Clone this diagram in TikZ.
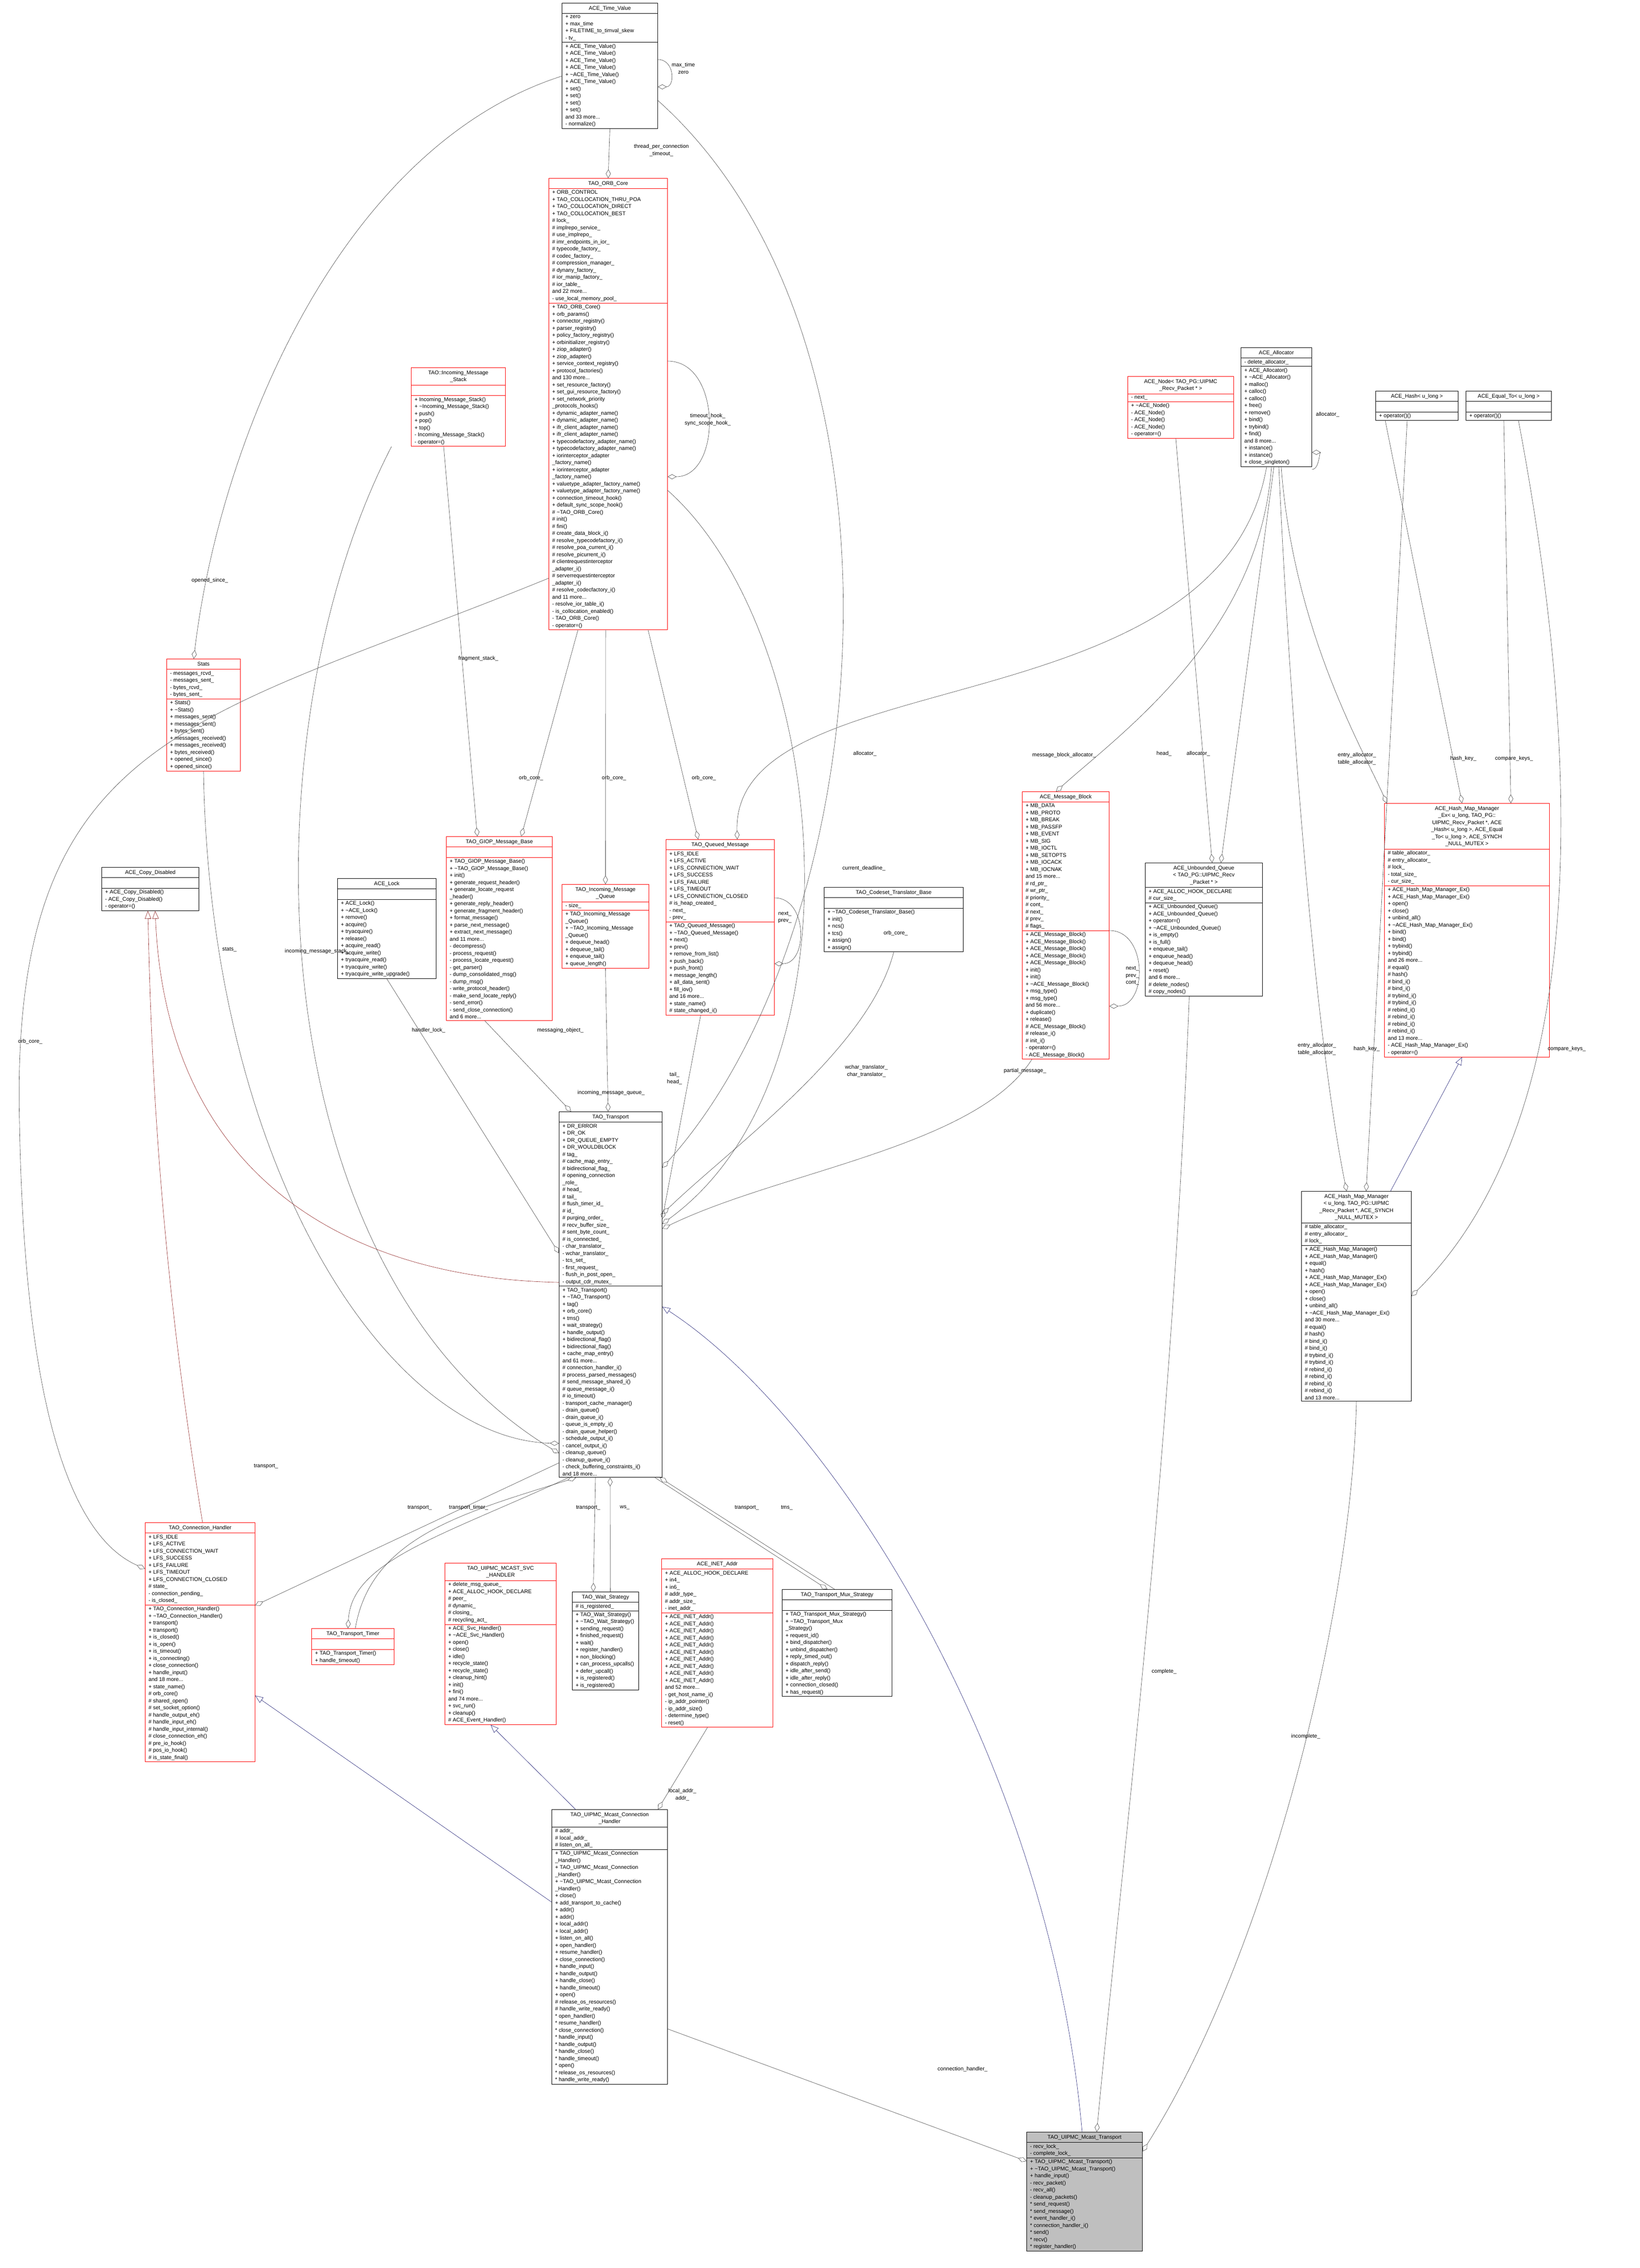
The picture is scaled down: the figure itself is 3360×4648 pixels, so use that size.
\documentclass[tikz,border=0pt]{standalone}
\usepackage{fontspec}
\usetikzlibrary{shapes.multipart,arrows.meta,positioning}
\newfontfamily\cf{Liberation Sans}
\newcommand\cfs{\cf\fontsize{11pt}{14.5pt}\selectfont}
\newcommand\ttl[1]{\begin{tabular}{@{}c@{}}#1\end{tabular}}
\newcommand\tl{\textasciitilde}
\definecolor{edgegray}{HTML}{404040}
\definecolor{inhblue}{HTML}{191970}
\definecolor{inhred}{HTML}{8B1A1A}
% one class box: style, name, x, y, width, title, attributes, methods
\newcommand\umlbox[8]{\node[#1, minimum width=#5pt] (#2) at (#3,#4) {\ttl{#6}\nodepart{second}#7\nodepart{third}#8};}
\tikzset{
  cls/.style={rectangle split, rectangle split parts=3, draw, line width=0.9pt,
    rectangle split part align={center,left,left}, anchor=north west,
    align=left, inner ysep=3pt, inner xsep=7pt, font=\cfs},
  redcls/.style={cls, draw=red},
  maincls/.style={cls, fill=black!25},
  agg/.style={draw=edgegray, line width=0.6pt, -{Diamond[open,length=18pt,width=10pt]}},
  inh/.style={draw=inhblue, line width=0.6pt, -{Triangle[open,length=16pt,width=13pt]}},
  inhr/.style={inh, draw=inhred},
  lbl/.style={font=\cfs, align=center, inner sep=1pt}
}
\begin{document}
\catcode`\_=12
\begin{tikzpicture}[x=1pt,y=-1pt]
  \useasboundingbox (0,0) rectangle (3360,4648);

  % class boxes
  \umlbox{cls}{tv}{1151}{6}{196}{ACE_Time_Value}
    {+ zero\\+ max_time\\+ FILETIME_to_timval_skew\\- tv_}
    {+ ACE_Time_Value()\\+ ACE_Time_Value()\\+ ACE_Time_Value()\\+ ACE_Time_Value()\\+ \tl ACE_Time_Value()\\+ ACE_Time_Value()\\+ set()\\+ set()\\+ set()\\+ set()\\and 33 more...\\- normalize()}
  \umlbox{redcls}{orb}{1124}{365}{243}{TAO_ORB_Core}
    {+ ORB_CONTROL\\+ TAO_COLLOCATION_THRU_POA\\+ TAO_COLLOCATION_DIRECT\\+ TAO_COLLOCATION_BEST\\\# lock_\\\# implrepo_service_\\\# use_implrepo_\\\# imr_endpoints_in_ior_\\\# typecode_factory_\\\# codec_factory_\\\# compression_manager_\\\# dynany_factory_\\\# ior_manip_factory_\\\# ior_table_\\and 22 more...\\- use_local_memory_pool_}
    {+ TAO_ORB_Core()\\+ orb_params()\\+ connector_registry()\\+ parser_registry()\\+ policy_factory_registry()\\+ orbinitializer_registry()\\+ ziop_adapter()\\+ ziop_adapter()\\+ service_context_registry()\\+ protocol_factories()\\and 130 more...\\+ set_resource_factory()\\+ set_gui_resource_factory()\\+ set_network_priority\\_protocols_hooks()\\+ dynamic_adapter_name()\\+ dynamic_adapter_name()\\+ ifr_client_adapter_name()\\+ ifr_client_adapter_name()\\+ typecodefactory_adapter_name()\\+ typecodefactory_adapter_name()\\+ iorinterceptor_adapter\\_factory_name()\\+ iorinterceptor_adapter\\_factory_name()\\+ valuetype_adapter_factory_name()\\+ valuetype_adapter_factory_name()\\+ connection_timeout_hook()\\+ default_sync_scope_hook()\\\# \tl TAO_ORB_Core()\\\# init()\\\# fini()\\\# create_data_block_i()\\\# resolve_typecodefactory_i()\\\# resolve_poa_current_i()\\\# resolve_picurrent_i()\\\# clientrequestinterceptor\\_adapter_i()\\\# serverrequestinterceptor\\_adapter_i()\\\# resolve_codecfactory_i()\\and 11 more...\\- resolve_ior_table_i()\\- is_collocation_enabled()\\- TAO_ORB_Core()\\- operator=()}
  \umlbox{redcls}{stack}{842}{753}{193}{TAO::Incoming_Message\\_Stack}
    {\strut}
    {+ Incoming_Message_Stack()\\+ \tl Incoming_Message_Stack()\\+ push()\\+ pop()\\+ top()\\- Incoming_Message_Stack()\\- operator=()}
  \umlbox{redcls}{stats}{341}{1350}{151}{Stats}
    {- messages_rcvd_\\- messages_sent_\\- bytes_rcvd_\\- bytes_sent_}
    {+ Stats()\\+ \tl Stats()\\+ messages_sent()\\+ messages_sent()\\+ bytes_sent()\\+ messages_received()\\+ messages_received()\\+ bytes_received()\\+ opened_since()\\+ opened_since()}
  \umlbox{cls}{copy}{208}{1777}{199}{ACE_Copy_Disabled}
    {\strut}
    {+ ACE_Copy_Disabled()\\- ACE_Copy_Disabled()\\- operator=()}
  \umlbox{redcls}{giop}{914}{1714}{217}{TAO_GIOP_Message_Base}
    {\strut}
    {+ TAO_GIOP_Message_Base()\\+ \tl TAO_GIOP_Message_Base()\\+ init()\\+ generate_request_header()\\+ generate_locate_request\\_header()\\+ generate_reply_header()\\+ generate_fragment_header()\\+ format_message()\\+ parse_next_message()\\+ extract_next_message()\\and 11 more...\\- decompress()\\- process_request()\\- process_locate_request()\\- get_parser()\\- dump_consolidated_msg()\\- dump_msg()\\- write_protocol_header()\\- make_send_locate_reply()\\- send_error()\\- send_close_connection()\\and 6 more...}
  \umlbox{cls}{lock}{691}{1800}{202}{ACE_Lock}
    {\strut}
    {+ ACE_Lock()\\+ \tl ACE_Lock()\\+ remove()\\+ acquire()\\+ tryacquire()\\+ release()\\+ acquire_read()\\+ acquire_write()\\+ tryacquire_read()\\+ tryacquire_write()\\+ tryacquire_write_upgrade()}
  \umlbox{redcls}{incq}{1151}{1812}{178}{TAO_Incoming_Message\\_Queue}
    {- size_}
    {+ TAO_Incoming_Message\\_Queue()\\+ \tl TAO_Incoming_Message\\_Queue()\\+ dequeue_head()\\+ dequeue_tail()\\+ enqueue_tail()\\+ queue_length()}
  \umlbox{redcls}{qmsg}{1364}{1720}{222}{TAO_Queued_Message}
    {+ LFS_IDLE\\+ LFS_ACTIVE\\+ LFS_CONNECTION_WAIT\\+ LFS_SUCCESS\\+ LFS_FAILURE\\+ LFS_TIMEOUT\\+ LFS_CONNECTION_CLOSED\\\# is_heap_created_\\- next_\\- prev_}
    {+ TAO_Queued_Message()\\+ \tl TAO_Queued_Message()\\+ next()\\+ prev()\\+ remove_from_list()\\+ push_back()\\+ push_front()\\+ message_length()\\+ all_data_sent()\\+ fill_iov()\\and 16 more...\\+ state_name()\\\# state_changed_i()}
  \umlbox{cls}{cset}{1688}{1818}{285}{TAO_Codeset_Translator_Base}
    {\strut}
    {+ \tl TAO_Codeset_Translator_Base()\\+ init()\\+ ncs()\\+ tcs()\\+ assign()\\+ assign()}
  \umlbox{redcls}{mblk}{2094}{1622}{178}{ACE_Message_Block}
    {+ MB_DATA\\+ MB_PROTO\\+ MB_BREAK\\+ MB_PASSFP\\+ MB_EVENT\\+ MB_SIG\\+ MB_IOCTL\\+ MB_SETOPTS\\+ MB_IOCACK\\+ MB_IOCNAK\\and 15 more...\\\# rd_ptr_\\\# wr_ptr_\\\# priority_\\\# cont_\\\# next_\\\# prev_\\\# flags_}
    {+ ACE_Message_Block()\\+ ACE_Message_Block()\\+ ACE_Message_Block()\\+ ACE_Message_Block()\\+ ACE_Message_Block()\\+ init()\\+ init()\\+ \tl ACE_Message_Block()\\+ msg_type()\\+ msg_type()\\and 56 more...\\+ duplicate()\\+ release()\\\# ACE_Message_Block()\\\# release_i()\\\# init_i()\\- operator=()\\- ACE_Message_Block()}
  \umlbox{cls}{unbq}{2346}{1768}{240}{ACE_Unbounded_Queue\\< TAO_PG::UIPMC_Recv\\_Packet * >}
    {+ ACE_ALLOC_HOOK_DECLARE\\\# cur_size_}
    {+ ACE_Unbounded_Queue()\\+ ACE_Unbounded_Queue()\\+ operator=()\\+ \tl ACE_Unbounded_Queue()\\+ is_empty()\\+ is_full()\\+ enqueue_tail()\\+ enqueue_head()\\+ dequeue_head()\\+ reset()\\and 6 more...\\\# delete_nodes()\\\# copy_nodes()}
  \umlbox{redcls}{node}{2310}{771}{217}{ACE_Node< TAO_PG::UIPMC\\_Recv_Packet * >}
    {- next_}
    {+ \tl ACE_Node()\\- ACE_Node()\\- ACE_Node()\\- ACE_Node()\\- operator=()}
  \umlbox{cls}{alloc}{2542}{712}{145}{ACE_Allocator}
    {- delete_allocator_}
    {+ ACE_Allocator()\\+ \tl ACE_Allocator()\\+ malloc()\\+ calloc()\\+ calloc()\\+ free()\\+ remove()\\+ bind()\\+ trybind()\\+ find()\\and 8 more...\\+ instance()\\+ instance()\\+ close_singleton()}
  \umlbox{cls}{hash}{2818}{801}{169}{ACE_Hash< u_long >}
    {\strut}
    {+ operator()()}
  \umlbox{cls}{equal}{3003}{801}{175}{ACE_Equal_To< u_long >}
    {\strut}
    {+ operator()()}
  \umlbox{redcls}{hmmex}{2836}{1646}{338}{ACE_Hash_Map_Manager\\_Ex< u_long, TAO_PG::\\UIPMC_Recv_Packet *, ACE\\_Hash< u_long >, ACE_Equal\\_To< u_long >, ACE_SYNCH\\_NULL_MUTEX >}
    {\# table_allocator_\\\# entry_allocator_\\\# lock_\\- total_size_\\- cur_size_}
    {+ ACE_Hash_Map_Manager_Ex()\\+ ACE_Hash_Map_Manager_Ex()\\+ open()\\+ close()\\+ unbind_all()\\+ \tl ACE_Hash_Map_Manager_Ex()\\+ bind()\\+ bind()\\+ trybind()\\+ trybind()\\and 26 more...\\\# equal()\\\# hash()\\\# bind_i()\\\# bind_i()\\\# trybind_i()\\\# trybind_i()\\\# rebind_i()\\\# rebind_i()\\\# rebind_i()\\\# rebind_i()\\and 13 more...\\- ACE_Hash_Map_Manager_Ex()\\- operator=()}
  \umlbox{cls}{hmm}{2666}{2441}{225}{ACE_Hash_Map_Manager\\< u_long, TAO_PG::UIPMC\\_Recv_Packet *, ACE_SYNCH\\_NULL_MUTEX >}
    {\# table_allocator_\\\# entry_allocator_\\\# lock_}
    {+ ACE_Hash_Map_Manager()\\+ ACE_Hash_Map_Manager()\\+ equal()\\+ hash()\\+ ACE_Hash_Map_Manager_Ex()\\+ ACE_Hash_Map_Manager_Ex()\\+ open()\\+ close()\\+ unbind_all()\\+ \tl ACE_Hash_Map_Manager_Ex()\\and 30 more...\\\# equal()\\\# hash()\\\# bind_i()\\\# bind_i()\\\# trybind_i()\\\# trybind_i()\\\# rebind_i()\\\# rebind_i()\\\# rebind_i()\\\# rebind_i()\\and 13 more...}
  \umlbox{cls}{tr}{1145}{2278}{211}{TAO_Transport}
    {+ DR_ERROR\\+ DR_OK\\+ DR_QUEUE_EMPTY\\+ DR_WOULDBLOCK\\\# tag_\\\# cache_map_entry_\\\# bidirectional_flag_\\\# opening_connection\\_role_\\\# head_\\\# tail_\\\# flush_timer_id_\\\# id_\\\# purging_order_\\\# recv_buffer_size_\\\# sent_byte_count_\\\# is_connected_\\- char_translator_\\- wchar_translator_\\- tcs_set_\\- first_request_\\- flush_in_post_open_\\- output_cdr_mutex_}
    {+ TAO_Transport()\\+ \tl TAO_Transport()\\+ tag()\\+ orb_core()\\+ tms()\\+ wait_strategy()\\+ handle_output()\\+ bidirectional_flag()\\+ bidirectional_flag()\\+ cache_map_entry()\\and 61 more...\\\# connection_handler_i()\\\# process_parsed_messages()\\\# send_message_shared_i()\\\# queue_message_i()\\\# io_timeout()\\- transport_cache_manager()\\- drain_queue()\\- drain_queue_i()\\- queue_is_empty_i()\\- drain_queue_helper()\\- schedule_output_i()\\- cancel_output_i()\\- cleanup_queue()\\- cleanup_queue_i()\\- check_buffering_constraints_i()\\and 18 more...}
  \umlbox{redcls}{ch}{297}{3120}{225}{TAO_Connection_Handler}
    {+ LFS_IDLE\\+ LFS_ACTIVE\\+ LFS_CONNECTION_WAIT\\+ LFS_SUCCESS\\+ LFS_FAILURE\\+ LFS_TIMEOUT\\+ LFS_CONNECTION_CLOSED\\\# state_\\- connection_pending_\\- is_closed_}
    {+ TAO_Connection_Handler()\\+ \tl TAO_Connection_Handler()\\+ transport()\\+ transport()\\+ is_closed()\\+ is_open()\\+ is_timeout()\\+ is_connecting()\\+ close_connection()\\+ handle_input()\\and 18 more...\\+ state_name()\\\# orb_core()\\\# shared_open()\\\# set_socket_option()\\\# handle_output_eh()\\\# handle_input_eh()\\\# handle_input_internal()\\\# close_connection_eh()\\\# pre_io_hook()\\\# pos_io_hook()\\\# is_state_final()}
  \umlbox{redcls}{timer}{638}{3337}{169}{TAO_Transport_Timer}
    {\strut}
    {+ TAO_Transport_Timer()\\+ handle_timeout()}
  \umlbox{redcls}{svc}{911}{3203}{228}{TAO_UIPMC_MCAST_SVC\\_HANDLER}
    {+ delete_msg_queue_\\+ ACE_ALLOC_HOOK_DECLARE\\\# peer_\\\# dynamic_\\\# closing_\\\# recycling_act_}
    {+ ACE_Svc_Handler()\\+ \tl ACE_Svc_Handler()\\+ open()\\+ close()\\+ idle()\\+ recycle_state()\\+ recycle_state()\\+ cleanup_hint()\\+ init()\\+ fini()\\and 74 more...\\+ svc_run()\\+ cleanup()\\\# ACE_Event_Handler()}
  \umlbox{cls}{wait}{1172}{3262}{136}{TAO_Wait_Strategy}
    {\# is_registered_}
    {+ TAO_Wait_Strategy()\\+ \tl TAO_Wait_Strategy()\\+ sending_request()\\+ finished_request()\\+ wait()\\+ register_handler()\\+ non_blocking()\\+ can_process_upcalls()\\+ defer_upcall()\\+ is_registered()\\+ is_registered()}
  \umlbox{redcls}{inet}{1355}{3194}{228}{ACE_INET_Addr}
    {+ ACE_ALLOC_HOOK_DECLARE\\+ in4_\\+ in6_\\\# addr_type_\\\# addr_size_\\- inet_addr_}
    {+ ACE_INET_Addr()\\+ ACE_INET_Addr()\\+ ACE_INET_Addr()\\+ ACE_INET_Addr()\\+ ACE_INET_Addr()\\+ ACE_INET_Addr()\\+ ACE_INET_Addr()\\+ ACE_INET_Addr()\\+ ACE_INET_Addr()\\+ ACE_INET_Addr()\\and 52 more...\\- get_host_name_i()\\- ip_addr_pointer()\\- ip_addr_size()\\- determine_type()\\- reset()}
  \umlbox{cls}{mux}{1602}{3257}{225}{TAO_Transport_Mux_Strategy}
    {\strut}
    {+ TAO_Transport_Mux_Strategy()\\+ \tl TAO_Transport_Mux\\_Strategy()\\+ request_id()\\+ bind_dispatcher()\\+ unbind_dispatcher()\\+ reply_timed_out()\\+ dispatch_reply()\\+ idle_after_send()\\+ idle_after_reply()\\+ connection_closed()\\+ has_request()}
  \umlbox{cls}{mch}{1130}{3708}{237}{TAO_UIPMC_Mcast_Connection\\_Handler}
    {\# addr_\\\# local_addr_\\\# listen_on_all_}
    {+ TAO_UIPMC_Mcast_Connection\\_Handler()\\+ TAO_UIPMC_Mcast_Connection\\_Handler()\\+ \tl TAO_UIPMC_Mcast_Connection\\_Handler()\\+ close()\\+ add_transport_to_cache()\\+ addr()\\+ addr()\\+ local_addr()\\+ local_addr()\\+ listen_on_all()\\+ open_handler()\\+ resume_handler()\\+ close_connection()\\+ handle_input()\\+ handle_output()\\+ handle_close()\\+ handle_timeout()\\+ open()\\\# release_os_resources()\\\# handle_write_ready()\\* open_handler()\\* resume_handler()\\* close_connection()\\* handle_input()\\* handle_output()\\* handle_close()\\* handle_timeout()\\* open()\\* release_os_resources()\\* handle_write_ready()}
  \umlbox{maincls}{mt}{2103}{4369}{237}{TAO_UIPMC_Mcast_Transport}
    {- recv_lock_\\- complete_lock_}
    {+ TAO_UIPMC_Mcast_Transport()\\+ \tl TAO_UIPMC_Mcast_Transport()\\+ handle_input()\\- recv_packet()\\- recv_all()\\- cleanup_packets()\\* send_request()\\* send_message()\\* event_handler_i()\\* connection_handler_i()\\* send()\\* recv()\\* register_handler()}

  % self references
  \draw[agg] ([yshift=-116pt]tv.north east) to[out=0,in=0,looseness=1.6] ([yshift=-172pt]tv.north east);
  \node[lbl] at (1400,140) {max_time\\zero};
  \draw[agg] ([yshift=-375pt]orb.north east) to[out=0,in=0,looseness=1.2] ([yshift=-612pt]orb.north east);
  \node[lbl] at (1450,860) {timeout_hook_\\sync_scope_hook_};
  \draw[agg] ([yshift=-250pt]alloc.north east) to[out=0,in=0,looseness=1.1] ([yshift=-215pt]alloc.north east);
  \node[lbl] at (2720,850) {allocator_};
  \draw[agg] ([yshift=-120pt]qmsg.north east) to[out=0,in=0,looseness=1.3] ([yshift=-255pt]qmsg.north east);
  \node[lbl] at (1608,1880) {next_\\prev_};
  \draw[agg] ([yshift=-285pt]mblk.north east) to[out=0,in=0,looseness=1.3] ([yshift=-440pt]mblk.north east);
  \node[lbl] at (2320,2000) {next_\\prev_\\cont_};

  % members around the ORB core and the time value
  \draw[agg] (tv.south) -- (orb.north);
  \node[lbl] at (1355,308) {thread_per_connection\\_timeout_};
  \draw[agg] ([yshift=-150pt]tv.north west) .. controls (700,300) and (450,900) .. ([xshift=-20pt]stats.north);
  \node[lbl] at (430,1190) {opened_since_};
  \draw[agg] ([yshift=-200pt]tv.north east) .. controls (1900,700) and (1800,1900) .. ([yshift=-115pt]tr.north east);
  \node[lbl] at (1770,1780) {current_deadline_};
  \draw[agg] ([yshift=-820pt]orb.north west) .. controls (400,1480) and (20,1500) .. (40,2300) .. controls (50,2900) and (150,3150) .. ([yshift=-95pt]ch.north west);
  \node[lbl] at (62,2135) {orb_core_};
  \draw[agg] ([xshift=60pt]orb.south west) -- ([xshift=45pt]giop.north);
  \node[lbl] at (1088,1595) {orb_core_};
  \draw[agg] ([xshift=-5pt]orb.south) -- (incq.north);
  \node[lbl] at (1258,1595) {orb_core_};
  \draw[agg] ([xshift=-40pt]orb.south east) -- ([xshift=-45pt]qmsg.north);
  \node[lbl] at (1442,1595) {orb_core_};
  \draw[agg] ([yshift=-640pt]orb.north east) .. controls (1700,1300) and (1780,2200) .. ([yshift=-230pt]tr.north east);
  \node[lbl] at (1835,1913) {orb_core_};

  % members held by the transport
  \draw[agg] ([xshift=-30pt]stack.south) -- ([xshift=-45pt]giop.north);
  \node[lbl] at (980,1350) {fragment_stack_};
  \draw[agg] ([xshift=-40pt]stack.south west) .. controls (500,1500) and (520,2600) .. ([yshift=-700pt]tr.north west);
  \node[lbl] at (650,1950) {incoming_message_stack_};
  \draw[agg] (stats.south) .. controls (430,2400) and (800,2950) .. ([yshift=-680pt]tr.north west);
  \node[lbl] at (470,1946) {stats_};
  \draw[agg] (lock.south) -- ([yshift=-290pt]tr.north west);
  \node[lbl] at (878,2112) {handler_lock_};
  \draw[agg] ([xshift=-30pt]giop.south) -- ([xshift=25pt]tr.north west);
  \node[lbl] at (1148,2112) {messaging_object_};
  \draw[agg] (incq.south) -- ([xshift=-5pt]tr.north);
  \node[lbl] at (1252,2240) {incoming_message_queue_};
  \draw[agg] ([xshift=-40pt]qmsg.south) -- ([yshift=-220pt]tr.north east);
  \node[lbl] at (1382,2210) {tail_\\head_};
  \draw[agg] (cset.south) .. controls (1780,2150) and (1500,2350) .. ([yshift=-210pt]tr.north east);
  \node[lbl] at (1775,2195) {wchar_translator_\\char_translator_};
  \draw[agg] ([xshift=20pt]mblk.south west) .. controls (2000,2350) and (1600,2400) .. ([yshift=-240pt]tr.north east);
  \node[lbl] at (2100,2195) {partial_message_};

  % allocator, queue and map members
  \draw[agg] ([xshift=-10pt]alloc.south) .. controls (2580,1300) and (2300,1500) .. ([xshift=-20pt]mblk.north);
  \node[lbl] at (2180,1548) {message_block_allocator_};
  \draw[agg] ([xshift=-20pt]alloc.south) .. controls (2500,1500) and (1500,1350) .. ([xshift=35pt]qmsg.north);
  \node[lbl] at (1772,1545) {allocator_};
  \draw[agg] ([xshift=-5pt]alloc.south) -- ([xshift=35pt]unbq.north);
  \node[lbl] at (2455,1545) {allocator_};
  \draw[agg] ([xshift=-10pt]node.south) -- ([xshift=17pt]unbq.north);
  \node[lbl] at (2385,1545) {head_};
  \draw[agg] ([xshift=10pt]alloc.south) .. controls (2650,1300) and (2800,1550) .. ([xshift=5pt]hmmex.north west);
  \node[lbl] at (2780,1555) {entry_allocator_\\table_allocator_};
  \draw[agg] ([xshift=5pt]alloc.south) .. controls (2640,1400) and (2690,2100) .. ([xshift=-20pt]hmm.north);
  \node[lbl] at (2698,2150) {entry_allocator_\\table_allocator_};
  \draw[agg] ([xshift=20pt]hash.south west) -- ([xshift=-10pt]hmmex.north);
  \node[lbl] at (2998,1555) {hash_key_};
  \draw[agg] ([xshift=-20pt]hash.south) -- ([xshift=20pt]hmm.north);
  \node[lbl] at (2800,2150) {hash_key_};
  \draw[agg] ([xshift=-10pt]equal.south) -- ([xshift=90pt]hmmex.north);
  \node[lbl] at (3102,1555) {compare_keys_};
  \draw[agg] ([xshift=20pt]equal.south) .. controls (3250,1600) and (3250,2300) .. ([yshift=-215pt]hmm.north east);
  \node[lbl] at (3210,2150) {compare_keys_};
  \draw[inh] ([xshift=70pt]hmm.north) -- ([xshift=-10pt]hmmex.south);

  % members and bases of the multicast transport
  \draw[agg] ([xshift=-30pt]unbq.south) .. controls (2400,3000) and (2300,3800) .. ([xshift=25pt]mt.north);
  \node[lbl] at (2385,3426) {complete_};
  \draw[agg] (hmm.south) .. controls (2770,3300) and (2600,4000) .. ([yshift=-40pt]mt.north east);
  \node[lbl] at (2675,3559) {incomplete_};
  \draw[inh] ([xshift=-5pt]mt.north) .. controls (2150,3600) and (1700,2900) .. ([yshift=-400pt]tr.north east);
  \draw[agg] ([yshift=-450pt]mch.north east) -- ([yshift=-60pt]mt.north west);
  \node[lbl] at (1972,4241) {connection_handler_};

  % bases shared with the connection handler
  \draw[inhr] ([yshift=-350pt]tr.north west) .. controls (700,2620) and (340,2400) .. ([xshift=10pt]copy.south);
  \draw[inhr] ([xshift=5pt]ch.north) .. controls (330,2600) and (310,2200) .. ([xshift=-5pt]copy.south);

  % collaborators below the transport
  \draw[agg] ([yshift=-720pt]tr.north west) -- ([yshift=-170pt]ch.north east);
  \node[lbl] at (545,3005) {transport_};
  \draw[agg] ([xshift=20pt]tr.south west) .. controls (900,3150) and (720,3200) .. ([xshift=-10pt]timer.north);
  \node[lbl] at (860,3090) {transport_};
  \draw[agg] ([xshift=5pt]timer.north) .. controls (760,3150) and (950,3100) .. ([xshift=35pt]tr.south west);
  \node[lbl] at (960,3090) {transport_timer_};
  \draw[agg] ([xshift=75pt]tr.south west) -- ([xshift=-25pt]wait.north);
  \node[lbl] at (1205,3090) {transport_};
  \draw[agg] ([xshift=10pt]wait.north) -- ([xshift=105pt]tr.south west);
  \node[lbl] at (1280,3090) {ws_};
  \draw[agg] ([xshift=-15pt]tr.south east) -- ([xshift=-20pt]mux.north);
  \node[lbl] at (1530,3090) {transport_};
  \draw[agg] ([xshift=-5pt]mux.north) -- ([xshift=-5pt]tr.south east);
  \node[lbl] at (1612,3090) {tms_};
  \draw[agg] ([xshift=-20pt]inet.south) -- ([xshift=-20pt]mch.north east);
  \node[lbl] at (1398,3678) {local_addr_\\addr_};
  \draw[inh] ([xshift=-70pt]mch.north) -- ([xshift=-20pt]svc.south);
  \draw[inh] ([yshift=-190pt]mch.north west) -- ([yshift=-355pt]ch.north east);
\end{tikzpicture}
\end{document}
